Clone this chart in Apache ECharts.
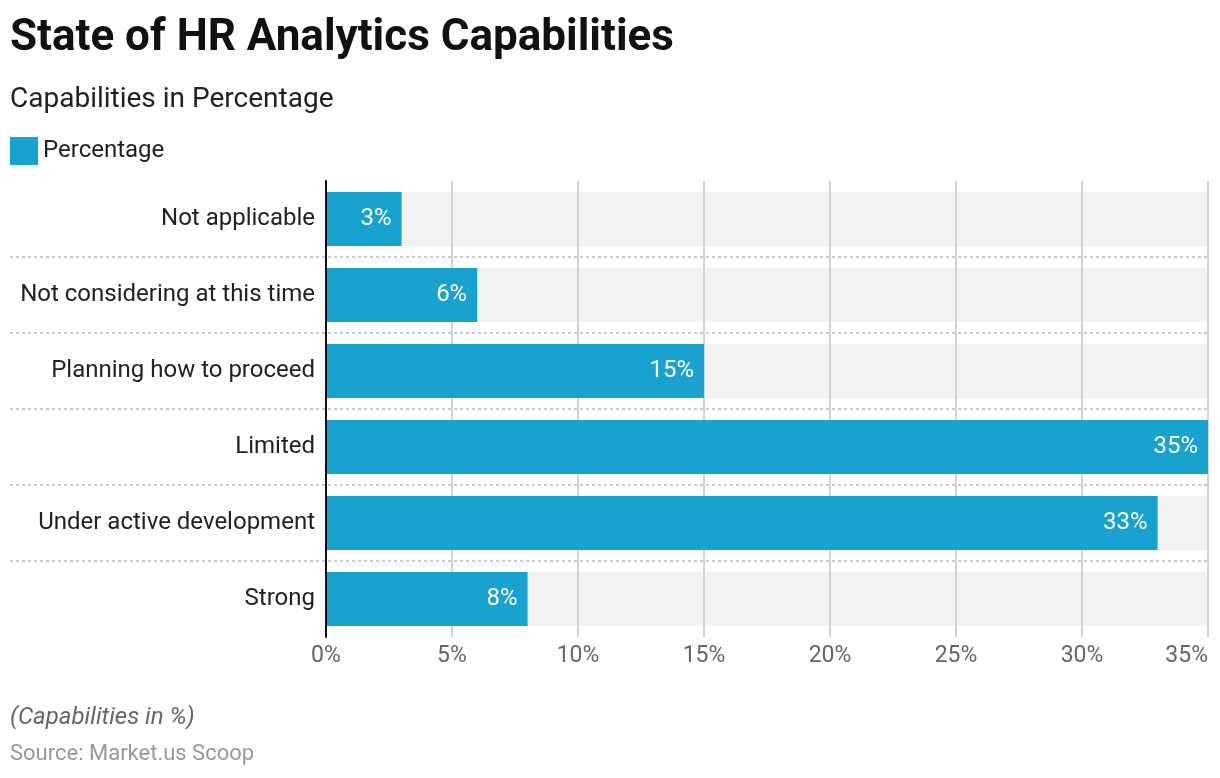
<!DOCTYPE html>
<html><head><meta charset="utf-8">
<script src="https://cdn.jsdelivr.net/npm/echarts@6/dist/echarts.min.js"></script>
<style>html,body{margin:0;padding:0;background:#fff}#c{width:1220px;height:778px}</style>
</head><body><div id="c"></div>
<script>
const categories = ['Not applicable','Not considering at this time','Planning how to proceed','Limited','Under active development','Strong'];
const values = [3, 6, 15, 35, 33, 8];
const seriesName = 'Percentage';
const xMax = 35;
const xTickInterval = 5;

(function(){
const chart = echarts.init(document.getElementById('c'));
const font = 'Roboto, "Noto Sans", sans-serif';
const gridTop = 181, gridHeight = 456;
chart.setOption({
  animation: false,
  textStyle: {fontFamily: font},
  title: [
    {text: 'State of HR Analytics Capabilities', left: 10, top: 17, padding: 0, textStyle: {fontSize: 44, fontWeight: 'bold', color: '#111', fontFamily: font}},
    {text: 'Capabilities in Percentage', left: 10, top: 86, padding: 0, textStyle: {fontSize: 28, fontWeight: 'normal', color: '#222', fontFamily: font}},
    {text: '(Capabilities in %)', left: 10, top: 706, padding: 0, textStyle: {fontSize: 24, fontStyle: 'italic', fontWeight: 'normal', color: '#666', fontFamily: font}},
    {text: 'Source: Market.us Scoop', left: 10, top: 743, padding: 0, textStyle: {fontSize: 22, fontWeight: 'normal', color: '#999', fontFamily: font}}
  ],
  legend: {left: 10, top: 137, padding: 0, itemWidth: 28, itemHeight: 28, itemGap: 10, icon: 'rect', selectedMode: false,
    data: [seriesName], textStyle: {fontSize: 24, color: '#222', padding: [4, 0, 0, 0]}},
  grid: [
    {left: 326, right: 12, top: gridTop, height: gridHeight},
    {left: 10, right: 12, top: gridTop, height: gridHeight}
  ],
  xAxis: [
    {gridIndex: 0, type: 'value', min: 0, max: xMax, interval: xTickInterval, z: 3,
      axisLine: {show: false}, axisTick: {show: false},
      splitLine: {show: true, lineStyle: {color: '#d3d3d3', width: 2}},
      axisLabel: {formatter: '{value}%', fontSize: 23, color: '#666', margin: 8, alignMaxLabel: 'right'}},
    {gridIndex: 1, type: 'value', min: 0, max: xMax, show: false}
  ],
  yAxis: [
    {gridIndex: 0, type: 'category', data: categories, inverse: true, z: 6,
      axisLine: {show: true, lineStyle: {color: '#111', width: 2}},
      axisTick: {show: false}, splitLine: {show: false},
      axisLabel: {fontSize: 24, color: '#222', margin: 11, padding: [5, 0, 0, 0]}},
    {gridIndex: 1, type: 'category', data: categories, inverse: true, z: 0,
      axisLine: {show: false}, axisTick: {show: false}, axisLabel: {show: false},
      splitLine: {show: true, showMinLine: false, showMaxLine: false, lineStyle: {color: '#cccccc', type: [3, 3], width: 2}}}
  ],
  series: [
    {type: 'bar', name: 'bg', xAxisIndex: 0, yAxisIndex: 0, z: 1, silent: true,
      data: categories.map(() => xMax), barCategoryGap: '29%', barGap: '-100%',
      itemStyle: {color: '#f2f2f2'}, legendHoverLink: false},
    {type: 'bar', name: seriesName, xAxisIndex: 0, yAxisIndex: 0, z: 5,
      data: values, barCategoryGap: '29%', barGap: '-100%',
      itemStyle: {color: '#19a2cf'},
      label: {show: true, position: 'insideRight', distance: 10, formatter: '{c}%', color: '#fff', fontSize: 24, padding: [4, 0, 0, 0]}}
  ]
});
})();
</script></body></html>
